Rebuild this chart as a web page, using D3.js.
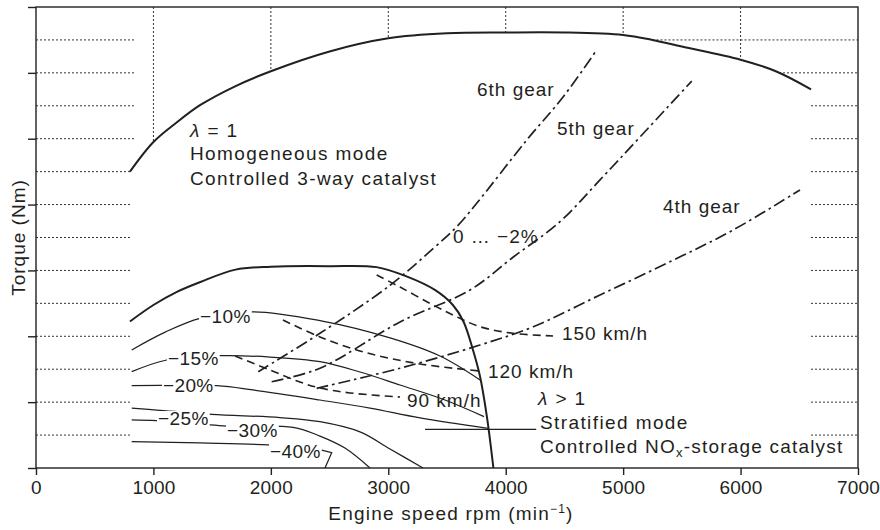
<!DOCTYPE html>
<html>
<head>
<meta charset="utf-8">
<script src="https://cdn.jsdelivr.net/npm/d3@7"></script>
<style>
  html, body { margin: 0; padding: 0; background: #fff; }
  svg text { font-family: "Liberation Sans", Arial, sans-serif; fill: #231f20; }
</style>
</head>
<body>
<svg id="chart" width="880" height="530"></svg>
<script>
// Engine map: torque vs engine speed, homogeneous and stratified operation
const rpmTicks = [0, 1000, 2000, 3000, 4000, 5000, 6000, 7000];
const torqueTicks = [0, 40, 80, 120, 160, 200, 240, 280];
const gridTorque = [20, 40, 60, 80, 100, 120, 140, 160, 180, 200, 220, 240, 260];
const gridRpm = [1000, 2000, 3000, 4000, 5000, 6000];

// Full-load curve, homogeneous mode (lambda = 1)
const fullLoadHomogeneous = [
  [800, 180], [1000, 198], [1200, 210], [1400, 220.5], [1700, 232], [2000, 241],
  [2500, 253], [3000, 261], [3500, 264], [4000, 264.5], [4500, 264.5], [5000, 263],
  [5250, 260], [5500, 256], [6000, 248], [6300, 241], [6600, 230]
];

// Upper limit of stratified operation (lambda > 1)
const fullLoadStratified = [
  [800, 89], [1000, 99], [1200, 107], [1400, 113], [1700, 120.5], [2000, 122.3],
  [2500, 122.6], [2900, 122], [3150, 116.5], [3400, 108], [3550, 99], [3640, 89],
  [3720, 72], [3780, 56], [3840, 31], [3895, 0]
];

// Fuel consumption difference contours
const contour10 = [[815, 71.7], [1100, 82.5], [1397, 90.9], [1851, 94.9], [2418, 89.5], [3015, 79], [3440, 68], [3781, 53.5]];
const contour15 = [[815, 58.5], [1113, 65.6], [1581, 68.2], [1993, 67.4], [2418, 64.6], [2759, 58.3], [3100, 50.4], [3483, 41.3], [3815, 31.2]];
const contour20 = [[815, 50], [1539, 50], [1848, 47.4], [2418, 41.3], [2844, 36.4], [3270, 30.4], [3849, 24.1]];
const contour25 = [[815, 36.3], [1028, 35.2], [1496, 32.6], [2078, 30.6], [2418, 28.1], [2759, 21.9], [3015, 11.5], [3296, 0]];
const contour30 = [[815, 29.2], [1028, 28.7], [1624, 25.5], [2189, 24.7], [2418, 19.4], [2631, 12.1], [2844, 0]];
const contour40 = [[815, 16], [1397, 15.2], [1976, 14], [2433, 10.9]];
const contour40Leader = [[2433, 10.9], [2518, 9.3], [2461, 0]];

// Road-load lines at constant vehicle speed
const speed90 = [[1695, 68], [1993, 59.5], [2248, 52.2], [2418, 48.6], [2674, 45.6], [3100, 43.1]];
const speed120 = [[2103, 89.9], [2418, 79.6], [2819, 69.9], [3270, 63.2], [3781, 58.9]];
const speed150 = [[2901, 117.2], [3100, 109.9], [3355, 100], [3568, 92.3], [3781, 85.8], [4062, 81.8], [4403, 80.2]];

// Gear lines
const gear6 = [[1893, 58.5], [2418, 81.8], [3015, 111], [3384, 133.4], [3583, 146.6], [3753, 160.8], [4179, 199.2], [4490, 225.5], [4775, 253.9]];
const gear5 = [[2007, 52.4], [2418, 60.6], [3100, 88.7], [3696, 108.1], [4062, 128], [4462, 149.6], [4803, 175], [5143, 201], [5584, 235]];
const gear4 = [[2390, 48.4], [3100, 60.6], [3781, 74.7], [4235, 85.8], [4803, 105.1], [5371, 124.3], [5938, 144.6], [6506, 168.9]];

// Labels placed in data units (rpm, torque at baseline)
const contourLabels = [
  ["\u221210%", 1397, 88.1], ["\u221215%", 1124, 62.6], ["\u221220%", 1081, 46.2],
  ["\u221225%", 1039, 26.1], ["\u221230%", 1627, 18.8], ["\u221240%", 1993, 6.1]
];
const lineLabels = [
  ["0 \u2026 \u22122%", 3551, 136.7], ["6th gear", 3755, 226], ["5th gear", 4437, 202.3],
  ["4th gear", 5339, 154.9], ["150 km/h", 4479, 77.7], ["120 km/h", 3849, 54.7], ["90 km/h", 3159, 37.1]
];
const homogeneousText = [["\u03bb", " = 1", 1311, 201], ["", "Homogeneous mode", 1311, 187.1], ["", "Controlled 3-way catalyst", 1311, 171.9]];
const stratifiedText = [["\u03bb", " > 1", 4275, 38.3], ["", "Stratified mode", 4292, 23.7]];
const nox = [4292, 9.1];
const pointer = [[3313, 23.5], [4260, 23.5]];

const svg = d3.select("#chart");
const x = d3.scaleLinear().domain([0, 7000]).range([36, 858]);
const y = d3.scaleLinear().domain([0, 280]).range([468, 7]);

const line = d3.line().x(d => x(d[0])).y(d => y(d[1])).curve(d3.curveCatmullRom.alpha(0.5));
const straight = d3.line().x(d => x(d[0])).y(d => y(d[1]));

function interp(arr, r) {
  for (let i = 0; i < arr.length - 1; i++) {
    const [r0, t0] = arr[i], [r1, t1] = arr[i + 1];
    if (r >= r0 && r <= r1) return t0 + (t1 - t0) * (r - r0) / (r1 - r0);
  }
  return null;
}
function rpmAtTorqueDesc(arr, t) {
  for (let i = arr.length - 1; i > 0; i--) {
    const [r0, t0] = arr[i - 1], [r1, t1] = arr[i];
    if (t1 <= t && t0 >= t && t0 !== t1) return r1 + (r0 - r1) * (t - t1) / (t0 - t1);
  }
  return null;
}

const ink = "#231f20";

// Dotted grid outside the engine map
const grid = svg.append("g").attr("stroke", "#333").attr("stroke-width", 1).attr("stroke-dasharray", "2,2");
gridRpm.forEach(r => {
  grid.append("line").attr("x1", x(r)).attr("x2", x(r)).attr("y1", y(280)).attr("y2", y(interp(fullLoadHomogeneous, r)));
});
const startT = fullLoadHomogeneous[0][1];
const endR = fullLoadHomogeneous[fullLoadHomogeneous.length - 1][0];
const endT = fullLoadHomogeneous[fullLoadHomogeneous.length - 1][1];
gridTorque.forEach(t => {
  const leftEnd = t > startT ? 840 : 800;
  grid.append("line").attr("x1", x(0)).attr("x2", x(leftEnd)).attr("y1", y(t)).attr("y2", y(t));
  const rightStart = t > endT ? rpmAtTorqueDesc(fullLoadHomogeneous, t) : endR;
  grid.append("line").attr("x1", x(rightStart)).attr("x2", x(7000)).attr("y1", y(t)).attr("y2", y(t));
});

// Frame and axes
svg.append("rect").attr("x", x(0)).attr("y", y(280)).attr("width", x(7000) - x(0)).attr("height", y(0) - y(280))
  .attr("fill", "none").attr("stroke", ink).attr("stroke-width", 1.4);

const xAxis = svg.append("g").attr("transform", `translate(0,${y(0)})`)
  .call(d3.axisBottom(x).tickValues(rpmTicks).tickSize(7).tickPadding(6).tickFormat(d3.format("d")));
xAxis.select(".domain").remove();
xAxis.selectAll("line").attr("stroke", ink).attr("stroke-width", 1.4);
xAxis.selectAll("text").attr("font-size", 19).attr("letter-spacing", 0.2)
  .style("font-family", "'Liberation Sans', Arial, sans-serif").attr("fill", ink);

const yAxis = svg.append("g").attr("transform", `translate(${x(0)},0)`)
  .call(d3.axisLeft(y).tickValues(torqueTicks).tickSize(8).tickFormat(""));
yAxis.select(".domain").remove();
yAxis.selectAll("line").attr("stroke", ink).attr("stroke-width", 1.4);

// Axis titles
const xt = svg.append("text").attr("x", 451).attr("y", 520).attr("text-anchor", "middle")
  .attr("font-size", 19).attr("letter-spacing", 1.2);
xt.append("tspan").text("Engine speed rpm (min");
xt.append("tspan").attr("font-size", 12).attr("dy", -7).text("\u22121");
xt.append("tspan").attr("dy", 7).text(")");

svg.append("text").attr("transform", `translate(25,${(y(0) + y(280)) / 2}) rotate(-90)`)
  .attr("text-anchor", "middle").attr("font-size", 19).attr("letter-spacing", 1).text("Torque (Nm)");

// Curves
svg.append("path").attr("d", line(fullLoadHomogeneous)).attr("fill", "none").attr("stroke", ink).attr("stroke-width", 2);
svg.append("path").attr("d", line(fullLoadStratified)).attr("fill", "none").attr("stroke", ink).attr("stroke-width", 2);

[contour10, contour15, contour20, contour25, contour30, contour40].forEach(c => {
  svg.append("path").attr("d", line(c)).attr("fill", "none").attr("stroke", ink).attr("stroke-width", 1.25);
});
svg.append("path").attr("d", straight(contour40Leader)).attr("fill", "none").attr("stroke", ink).attr("stroke-width", 1.25);

[speed90, speed120, speed150].forEach(c => {
  svg.append("path").attr("d", line(c)).attr("fill", "none").attr("stroke", ink).attr("stroke-width", 1.6)
    .attr("stroke-dasharray", "8,5");
});
[gear6, gear5, gear4].forEach(c => {
  svg.append("path").attr("d", line(c)).attr("fill", "none").attr("stroke", ink).attr("stroke-width", 1.7)
    .attr("stroke-dasharray", "12,4,2.5,4");
});

svg.append("path").attr("d", straight(pointer)).attr("fill", "none").attr("stroke", ink).attr("stroke-width", 1.25);

// Contour labels sit on a white patch that interrupts the line
contourLabels.forEach(([t, r, v]) => {
  const g = svg.append("g");
  const txt = g.append("text").attr("x", x(r)).attr("y", y(v)).attr("font-size", 19).attr("letter-spacing", 0.4).text(t);
  const b = txt.node().getBBox();
  g.insert("rect", "text").attr("x", b.x - 1).attr("y", b.y + 3).attr("width", b.width + 2).attr("height", b.height - 5).attr("fill", "#fff");
});

lineLabels.forEach(([t, r, v]) => {
  svg.append("text").attr("x", x(r)).attr("y", y(v)).attr("font-size", 19).attr("letter-spacing", 1).text(t);
});
homogeneousText.concat(stratifiedText).forEach(([sym, t, r, v]) => {
  const tx = svg.append("text").attr("x", x(r)).attr("y", y(v)).attr("font-size", 19).attr("letter-spacing", 1.4);
  if (sym) tx.append("tspan").attr("font-style", "italic").text(sym);
  tx.append("tspan").text(t);
});
const nt = svg.append("text").attr("x", x(nox[0])).attr("y", y(nox[1])).attr("font-size", 19).attr("letter-spacing", 1.2);
nt.append("tspan").text("Controlled NO");
nt.append("tspan").attr("font-size", 13).attr("dy", 4).text("x");
nt.append("tspan").attr("dy", -4).text("-storage catalyst");
</script>
</body>
</html>
